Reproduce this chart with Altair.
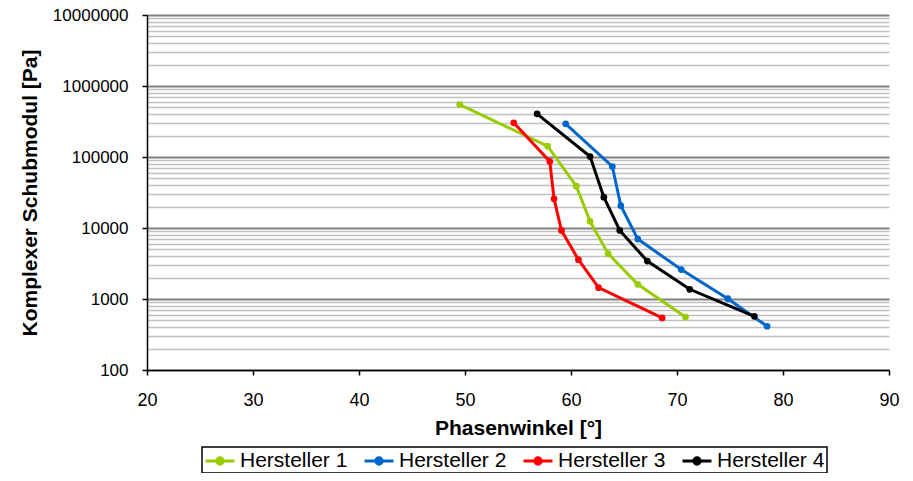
import altair as alt
import pandas as pd

series = ["Hersteller 1", "Hersteller 2", "Hersteller 3", "Hersteller 4"]
colors = ["#99CC00", "#0066CC", "#FF0000", "#000000"]

h1_phase = [49.5, 57.8, 60.5, 61.8, 63.5, 66.3, 70.8]
h1_mod = [547000, 142000, 38800, 12400, 4350, 1610, 558]
h2_phase = [59.5, 63.9, 64.7, 66.3, 70.4, 74.8, 78.5]
h2_mod = [293000, 73500, 20600, 6980, 2600, 1010, 413]
h3_phase = [54.6, 58.0, 58.4, 59.1, 60.7, 62.6, 68.6]
h3_mod = [303000, 86400, 25800, 9250, 3580, 1445, 541]
h4_phase = [56.8, 61.8, 63.1, 64.6, 67.2, 71.2, 77.3]
h4_mod = [405000, 101600, 27200, 9250, 3420, 1370, 571]

x_ticks = [20, 30, 40, 50, 60, 70, 80, 90]
y_grid = [m * 10 ** k for k in range(2, 7) for m in range(1, 10)] + [10 ** 7]

rows = []
for name, ph, md in zip(series, [h1_phase, h2_phase, h3_phase, h4_phase],
                        [h1_mod, h2_mod, h3_mod, h4_mod]):
    for i, (p, m) in enumerate(zip(ph, md)):
        rows.append({"Serie": name, "Phase": p, "Modul": m, "i": i})
df = pd.DataFrame(rows)

is_decade = "abs(log(datum.value)/log(10) - round(log(datum.value)/log(10))) < 1e-6"

x_enc = alt.X("Phase:Q",
              scale=alt.Scale(domain=[20, 90], nice=False, zero=False),
              axis=alt.Axis(values=x_ticks, title="Phasenwinkel [°]", grid=False,
                            labelFlush=False,
                            tickSize=5, labelPadding=16, titlePadding=8,
                            labelFontSize=18, titleFontSize=21))
y_enc = alt.Y("Modul:Q",
              scale=alt.Scale(type="log", domain=[100, 10 ** 7], nice=False),
              axis=alt.Axis(values=y_grid, title="Komplexer Schubmodul [Pa]",
                            labelExpr=f"({is_decade}) ? format(datum.value, 'd') : ''",
                            labelOverlap=False, labelFlush=False,
                            gridColor={"condition": {"test": is_decade, "value": "#808080"}, "value": "#C0C0C0"},
                            gridWidth={"condition": {"test": is_decade, "value": 2}, "value": 1.5},
                            tickOpacity={"condition": {"test": is_decade, "value": 1}, "value": 0},
                            tickSize=5, labelPadding=14, titlePadding=12,
                            labelFontSize=17, titleFontSize=21))
color_enc = alt.Color("Serie:N", scale=alt.Scale(domain=series, range=colors),
                      legend=alt.Legend(title=None))

base = alt.Chart(df)
lines = base.mark_line(strokeWidth=3).encode(x=x_enc, y=y_enc, color=color_enc, order="i:Q")
points = base.mark_circle(size=45, opacity=1).encode(x=x_enc, y=y_enc, color=color_enc)

chart = alt.layer(lines, points).properties(
    width=742, height=355,
    autosize=alt.AutoSizeParams(type="none"),
    padding={"left": 139, "top": 7, "right": 16, "bottom": 103},
).configure(font="Liberation Sans").configure_view(stroke=None).configure_axis(
    domainColor="#000000", tickColor="#000000", labelColor="#000000", titleColor="#000000",
    domainWidth=1.5, tickWidth=1.5, titleFontWeight="bold",
).configure_legend(
    orient="none", legendX=55, legendY=432, direction="horizontal", columns=4,
    strokeColor="#000000", strokeWidth=1.5, padding=2, columnPadding=10,
    labelFontSize=21, labelColor="#000000", labelOffset=8, labelLimit=300,
    symbolType="M-1.38,0L1.38,0M-0.3,0A0.3,0.3,0,1,1,0.3,0A0.3,0.3,0,1,1,-0.3,0Z",
    symbolSize=441, symbolStrokeWidth=3, symbolOpacity=1, symbolOffset=4,
)

chart.save("out.html", embed_options={"renderer": "svg", "actions": False})
